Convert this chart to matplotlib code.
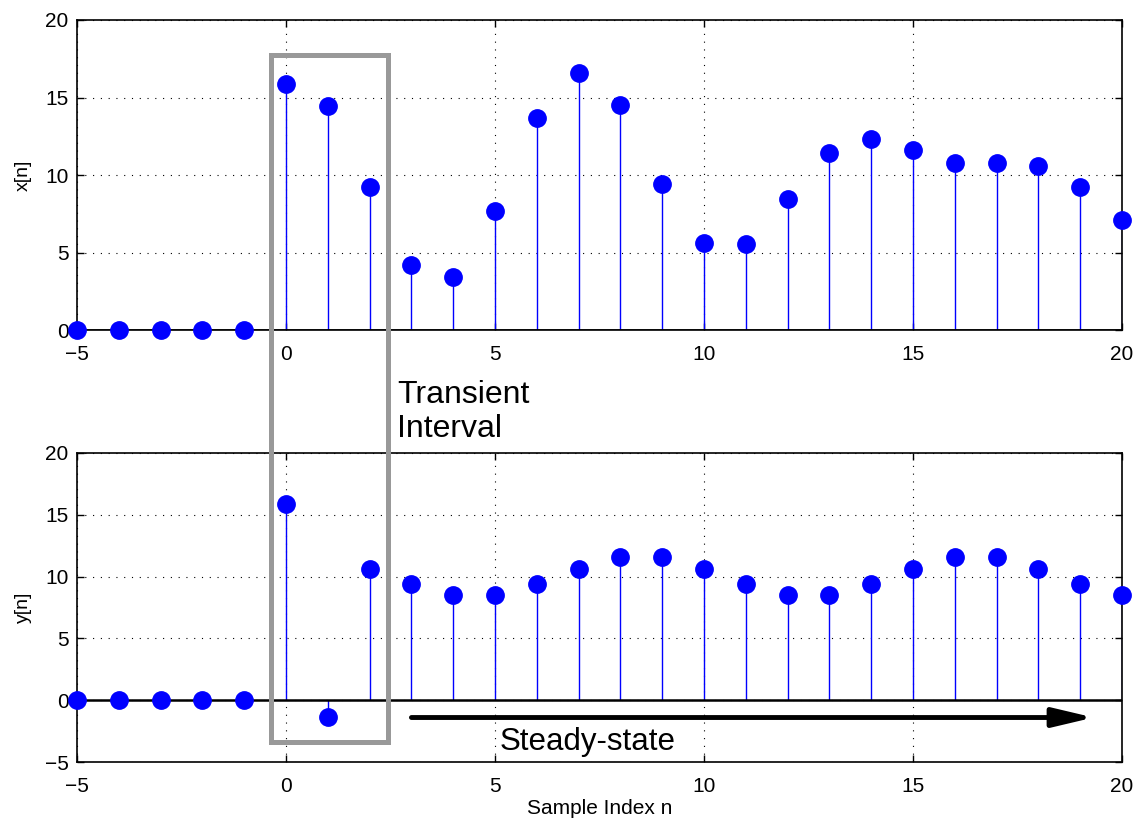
import numpy as np
import matplotlib
matplotlib.use('Agg')
import matplotlib.pyplot as plt
from matplotlib.patches import Rectangle

plt.rcParams['font.family'] = ['Liberation Sans', 'DejaVu Sans']

n = np.arange(-5, 21)
x_vals = [0, 0, 0, 0, 0,
          15.85, 14.45, 9.2, 4.2, 3.4, 7.7, 13.7, 16.6, 14.5, 9.4,
          5.6, 5.55, 8.45, 11.4, 12.3, 11.6, 10.8, 10.75, 10.6, 9.2, 7.1]
y_vals = [0, 0, 0, 0, 0,
          15.85, -1.35, 10.6, 9.4, 8.5, 8.5, 9.4, 10.6, 11.55, 11.55,
          10.6, 9.4, 8.5, 8.5, 9.4, 10.6, 11.55, 11.55, 10.6, 9.4, 8.5]

fig = plt.figure(figsize=(11.41, 8.23), dpi=100)
ax1 = fig.add_axes([0.0675, 0.599, 0.9159, 0.3767])
ax2 = fig.add_axes([0.0675, 0.0741, 0.9159, 0.3755])


def stem_plot(ax, vals, ylim, yticks, ylabel):
    ml, sl, bl = ax.stem(n, vals, linefmt='b-', markerfmt='bo', basefmt='k-')
    plt.setp(ml, markersize=12.5, color='#0000ff', clip_on=False, zorder=4)
    plt.setp(sl, linewidth=1.0, color='#0000ff')
    plt.setp(bl, linewidth=1.8, color='black')
    ax.set_xlim(-5, 20)
    ax.set_ylim(*ylim)
    ax.set_xticks([-5, 0, 5, 10, 15, 20])
    ax.set_xticklabels(['\u22125', '0', '5', '10', '15', '20'])
    ax.set_yticks(yticks)
    ax.set_yticklabels([str(t).replace('-', '\u2212') for t in yticks])
    ax.grid(True, color='black', linestyle=(0, (1, 6)), linewidth=0.8)
    ax.tick_params(direction='in', top=True, right=True, length=5,
                   labelsize=15, width=1)
    ax.tick_params(axis='x', pad=11)
    ax.tick_params(axis='y', pad=6)
    for s in ax.spines.values():
        s.set_linewidth(1.2)
    ax.set_ylabel(ylabel, fontsize=14)
    ax.yaxis.set_label_coords(-0.043, 0.5)


stem_plot(ax1, x_vals, (0, 20), [0, 5, 10, 15, 20], 'x[n]')
stem_plot(ax2, y_vals, (-5, 20), [-5, 0, 5, 10, 15, 20], 'y[n]')
ax2.set_xlabel('Sample Index n', fontsize=15, labelpad=2)

# transient box spanning both panels
fig.patches.append(Rectangle((0.2375, 0.0984), 0.1025, 0.8348,
                             transform=fig.transFigure, fill=False,
                             edgecolor='#999999', linewidth=3.6, zorder=10))

fig.text(0.348, 0.538, 'Transient\nInterval', fontsize=23, ha='left',
         va='top', linespacing=1.15)

# steady-state arrow
ax2.annotate('', xy=(19.32, -1.4), xytext=(3.0, -1.4),
             arrowprops=dict(arrowstyle='-|>,head_length=2.45,head_width=0.58',
                             color='black', lw=3.5, shrinkA=0, shrinkB=0),
             annotation_clip=False)
ax2.text(5.1, -3.4, 'Steady-state', fontsize=22.5, ha='left', va='center')

fig.savefig('out.png', dpi=100)
